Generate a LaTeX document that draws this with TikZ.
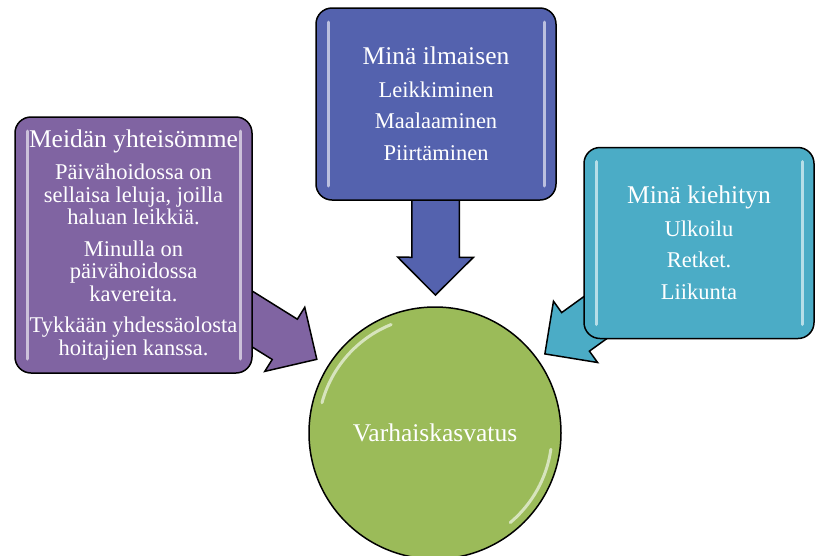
\documentclass[tikz,border=0pt]{standalone}
\usepackage{fontspec}
\setmainfont{Liberation Serif}
\usetikzlibrary{shapes.arrows, backgrounds}

\definecolor{purplebox}{HTML}{8064A2}
\definecolor{bluebox}{HTML}{5462AE}
\definecolor{tealbox}{HTML}{4BACC6}
\definecolor{greenhub}{HTML}{9BBB59}

\newcommand{\headfont}{\fontsize{25.5}{22.5}\selectfont}
\newcommand{\bodyfont}{\fontsize{22.5}{22.5}\selectfont}

\begin{document}
\begin{tikzpicture}[
  x=1pt, y=-1pt,
  gloss/.style = {draw=white!60!#1, line width=3pt, line cap=round},
  card/.style = {draw=black, line width=1.5pt, fill=#1, rounded corners=16pt,
    text=white, align=center, inner sep=0pt, font=\bodyfont,
    path picture={
      \draw[gloss=#1] ([xshift=12pt,yshift=-14pt]path picture bounding box.north west)
        -- ([xshift=12pt,yshift=14pt]path picture bounding box.south west);
      \draw[gloss=#1] ([xshift=-12pt,yshift=-14pt]path picture bounding box.north east)
        -- ([xshift=-12pt,yshift=14pt]path picture bounding box.south east);
    }},
  pointer/.style = {single arrow, draw=black, line width=1.5pt, fill=#1,
    minimum height=140pt, minimum width=0pt, inner xsep=0pt, inner ysep=23pt,
    single arrow head extend=14pt, single arrow head indent=0pt,
    sloped, allow upside down, anchor=tip}
]
  \useasboundingbox (0,0) rectangle (815,555);

  % Centre
  \node[circle, draw=black, line width=1.5pt, fill=greenhub, minimum size=252pt,
    text=white, font=\headfont,
    path picture={
      \draw[gloss=greenhub] (path picture bounding box.center) ++(112:117pt)
        arc[start angle=112, end angle=165, radius=117pt];
      \draw[gloss=greenhub] (path picture bounding box.center) ++(-8:117pt)
        arc[start angle=-8, end angle=-50, radius=117pt];
    }] (varhais) at (435,433) {Varhaiskasvatus};

  % Boxes
  \node[card=purplebox, minimum width=237pt, minimum height=256pt] (yhteiso) at (133.5,245) {
    {\headfont Meidän yhteisömme}\\[10pt]
    Päivähoidossa on\\ sellaisa leluja, joilla\\ haluan leikkiä.\\[9pt]
    Minulla on\\ päivähoidossa\\ kavereita.\\[9pt]
    Tykkään yhdessäolosta\\ hoitajien kanssa.};

  \node[card=bluebox, minimum width=240pt, minimum height=192pt] (ilmaisu) at (436,104) {
    {\headfont Minä ilmaisen}\\[10pt]
    Leikkiminen\\[9pt] Maalaaminen\\[9pt] Piirtäminen};

  \node[card=tealbox, minimum width=230pt, minimum height=191pt] (liikunta) at (699,243) {
    {\headfont Minä kiehityn}\\[10pt]
    Ulkoilu\\[9pt] Retket.\\[9pt] Liikunta};

  % Arrows
  \begin{scope}[on background layer]
    \path (yhteiso.center) -- (varhais.center)
      node[pointer=purplebox, pos=.611] (yhteisoarrow) {};
    \path (ilmaisu.center) -- (varhais.center)
      node[pointer=bluebox, pos=.584] (ilmaisuarrow) {};
    \path (liikunta.center) -- (varhais.center)
      node[pointer=tealbox, pos=.587] (liikuntaarrow) {};
  \end{scope}

\end{tikzpicture}
\end{document}
